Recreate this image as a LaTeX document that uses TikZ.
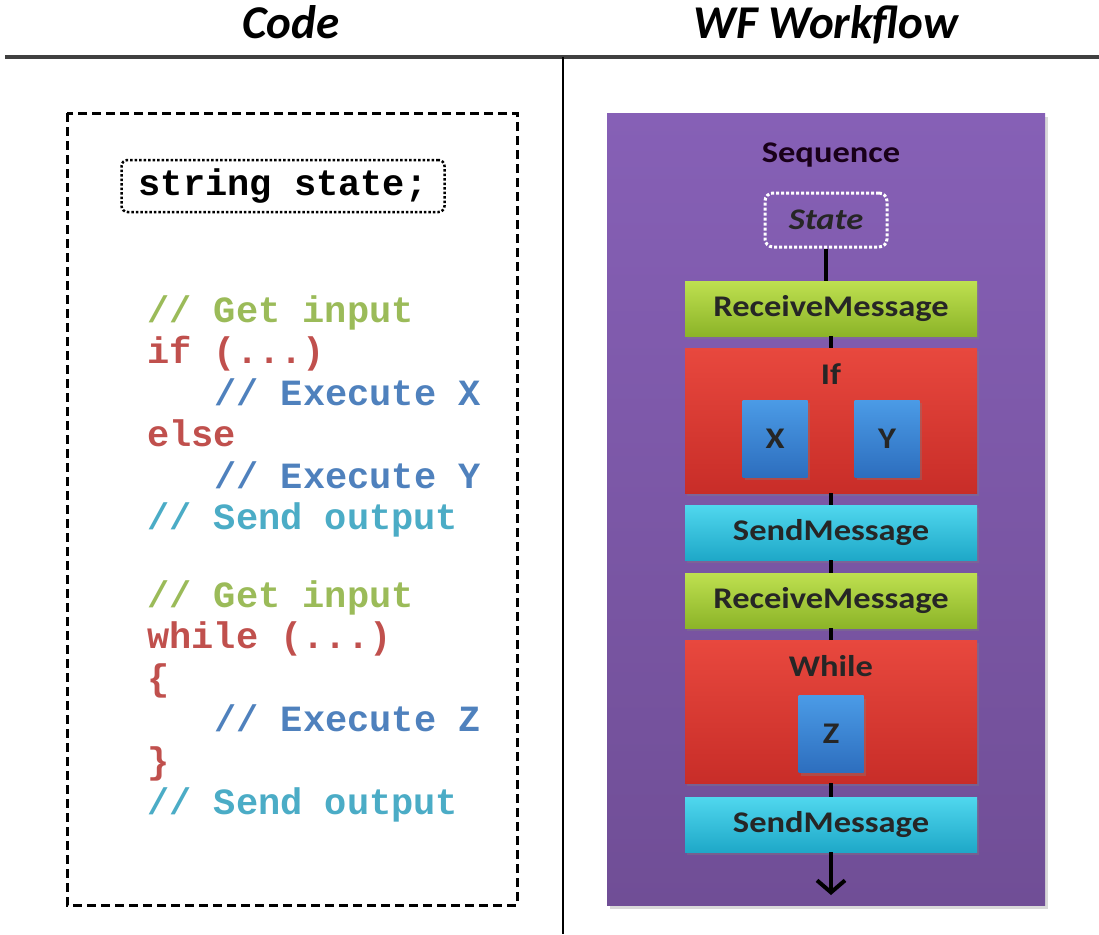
\documentclass[tikz,border=0pt]{standalone}
\usepackage{fontspec}
\setmainfont{Carlito}[FakeStretch=1.15]
\setmonofont{Liberation Mono}
\newfontfamily\headfont{Carlito}
\usepackage{xcolor}
\usepackage{tikz}
\usetikzlibrary{arrows.meta,shadows}

\definecolor{cgreen}{RGB}{155,187,89}
\definecolor{cred}{RGB}{192,80,77}
\definecolor{cblue}{RGB}{79,129,189}
\definecolor{ccyan}{RGB}{75,172,198}
\definecolor{seqtop}{RGB}{134,96,182}
\definecolor{seqbot}{RGB}{112,78,150}
\definecolor{rcvtop}{RGB}{190,224,80}
\definecolor{rcvbot}{RGB}{140,180,40}
\definecolor{ctltop}{RGB}{232,72,62}
\definecolor{ctlbot}{RGB}{200,45,40}
\definecolor{sndtop}{RGB}{80,215,238}
\definecolor{sndbot}{RGB}{30,168,200}
\definecolor{acttop}{RGB}{75,155,230}
\definecolor{actbot}{RGB}{45,110,190}

\begin{document}
\begin{tikzpicture}[x=1pt,y=-1pt,
  head/.style={anchor=base,font=\headfont\fontsize{47}{50}\selectfont\bfseries\itshape},
  code/.style={anchor=base west,inner sep=0pt,font=\fontsize{37}{40}\selectfont\ttfamily\bfseries},
  msgbox/.style={minimum width=292pt,minimum height=55pt,inner sep=0pt,
    font=\fontsize{30}{34}\selectfont\bfseries,text=black!85,
    drop shadow={opacity=0.35,shadow xshift=2pt,shadow yshift=-3pt}},
  ctlbox/.style={minimum width=292pt,inner sep=0pt,top color=ctltop,bottom color=ctlbot,
    drop shadow={opacity=0.35,shadow xshift=2pt,shadow yshift=-3pt}},
  actbox/.style={minimum width=65pt,minimum height=77pt,inner sep=0pt,
    top color=acttop,bottom color=actbot,font=\fontsize{30}{34}\selectfont\bfseries,text=black!85,
    drop shadow={opacity=0.35,shadow xshift=2pt,shadow yshift=-3pt}},
  spine/.style={line width=4pt,black}]
\useasboundingbox (0,0) rectangle (1099,934);

% headers
\node[head] (hcode) at (291,39) {Code};
\node[head] (hwf) at (826,39) {WF Workflow};
\draw[line width=4pt,black!75] (5,57)--(1099,57);
\draw[line width=2pt] (563,57)--(563,934);

% code side
\draw[line width=3pt,dash pattern=on 9pt off 5pt] (67,113) rectangle (517,905);
\node[draw,dotted,line width=2.5pt,rounded corners=6pt,minimum width=323pt,minimum height=52pt,
  font=\fontsize{37}{40}\selectfont\ttfamily\bfseries] (decl) at (283,186) {string state;};
\node[code,text=cgreen] (c1) at (147,322) {// Get input};
\node[code,text=cred] (c2) at (147,363.5) {if (...)};
\node[code,text=cblue] (c3) at (214,405) {// Execute X};
\node[code,text=cred] (c4) at (147,446.5) {else};
\node[code,text=cblue] (c5) at (214,488) {// Execute Y};
\node[code,text=ccyan] (c6) at (147,529.5) {// Send output};
\node[code,text=cgreen] (c7) at (147,607) {// Get input};
\node[code,text=cred] (c8) at (147,648.5) {while (...)};
\node[code,text=cred] (c9) at (147,690) {\{};
\node[code,text=cblue] (c10) at (214,731.5) {// Execute Z};
\node[code,text=cred] (c11) at (147,773) {\}};
\node[code,text=ccyan] (c12) at (147,814.5) {// Send output};

% workflow side
\shade[top color=seqtop,bottom color=seqbot,drop shadow={opacity=0.3,shadow xshift=3pt,shadow yshift=-4pt}]
  (607,113) rectangle (1045,905);
\node[font=\fontsize{30}{34}\selectfont\bfseries,text=black!80!violet] (seq) at (831,155) {Sequence};
\node[draw=white,dotted,line width=3pt,rounded corners=8pt,minimum width=122pt,minimum height=54pt,
  font=\fontsize{30}{34}\selectfont\bfseries\itshape,text=black!85] (state) at (826,220) {State};

\node[msgbox,top color=rcvtop,bottom color=rcvbot] (recv1) at (831,308.5) {ReceiveMessage};
\node[ctlbox,minimum height=145pt] (if) at (831,420.5) {};
\node[font=\fontsize{30}{34}\selectfont\bfseries,text=black!85] (iflbl) at (831,374) {If};
\node[actbox] (x) at (775,438.5) {X};
\node[actbox] (y) at (887,438.5) {Y};
\node[msgbox,top color=sndtop,bottom color=sndbot] (send1) at (831,532.5) {SendMessage};
\node[msgbox,top color=rcvtop,bottom color=rcvbot] (recv2) at (831,600.5) {ReceiveMessage};
\node[ctlbox,minimum height=143pt] (while) at (831,711.5) {};
\node[font=\fontsize{30}{34}\selectfont\bfseries,text=black!85] (whilelbl) at (831,666) {While};
\node[actbox] (z) at (831,734) {Z};
\node[msgbox,top color=sndtop,bottom color=sndbot] (send2) at (831,824.5) {SendMessage};
\coordinate (end) at (831,895);

\draw[spine] (state.south) -- (state.south |- recv1.north);
\draw[spine] (recv1) -- (recv1 |- if.north);
\draw[spine] (if) -- (if |- send1.north);
\draw[spine] (send1) -- (send1 |- recv2.north);
\draw[spine] (recv2) -- (recv2 |- while.north);
\draw[spine] (while) -- (while |- send2.north);
\draw[spine,-{Straight Barb[length=12pt,width=28pt]}] (send2.south) -- (end);
\end{tikzpicture}
\end{document}
